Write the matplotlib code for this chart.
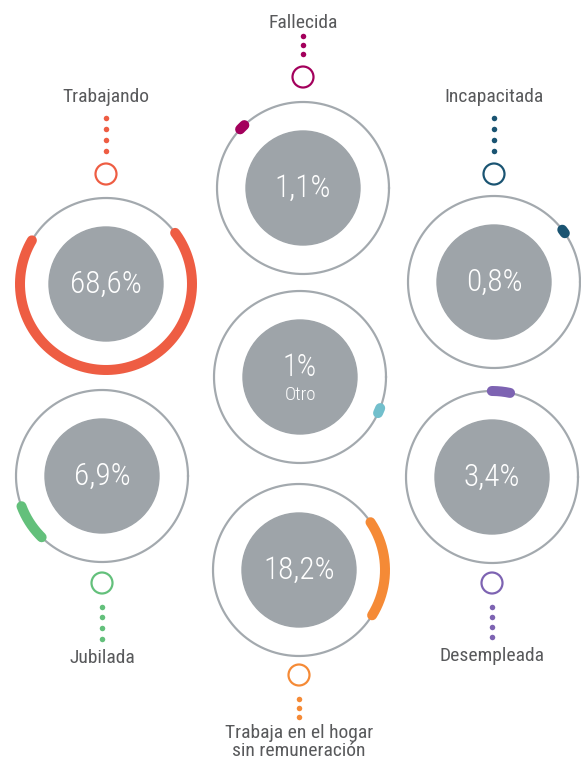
import numpy as np
import matplotlib.pyplot as plt

# category, share (%) and colour of each activity
labels = ["Trabajando", "Fallecida", "Incapacitada", "Jubilada", "Otro",
          "Desempleada", "Trabaja en el hogar\nsin remuneración"]
values = [68.6, 1.1, 0.8, 6.9, 1.0, 3.4, 18.2]
colors = ["#ee5d43", "#a3005c", "#1a5472", "#63c07b", "#72bfcc",
          "#7d63b2", "#f58a36"]

# layout: ring centres (px), where each arc sits (deg), label side
centers = [(106, 284), (303, 188), (494, 282), (102, 476), (300, 377),
           (492, 477), (299, 570)]
arc_mid = [273, 135, 36, 213, -23, 84, 1]
label_side = ["top", "top", "top", "bottom", None, "bottom", "bottom"]
n_dots = [4, 3, 4, 4, 0, 4, 3]
marker_off = [110, 111, 108, 107, 0, 106, 105]
dot_step = [10.7, 9, 10.7, 10.7, 0, 10.3, 9]
label_gap = [21, 13, 21, 19, 0, 19, 16]

RING = 86
INNER = 57
GRAY_RING = "#a3a9ae"
GRAY_FILL = "#9ea4a9"
TEXT = "#58595b"

plt.rcParams["font.family"] = ["Roboto Condensed", "Liberation Sans Narrow",
                               "Roboto", "DejaVu Sans"]

W, H = 581, 761
fig = plt.figure(figsize=(W / 100, H / 100), dpi=100)
ax = fig.add_axes([0, 0, 1, 1])
ax.set_xlim(0, W)
ax.set_ylim(H, 0)
ax.set_aspect("equal")
ax.axis("off")

px = 0.72  # points per pixel at 100 dpi

for i, (lab, val, col, (cx, cy)) in enumerate(zip(labels, values, colors, centers)):
    t = np.linspace(0, 2 * np.pi, 400)
    ax.plot(cx + RING * np.cos(t), cy - RING * np.sin(t),
            color=GRAY_RING, lw=2.2 * px, zorder=1)
    ax.add_patch(plt.Circle((cx, cy), INNER, color=GRAY_FILL, zorder=1))

    span = np.deg2rad(val / 100 * 360)
    mid = np.deg2rad(arc_mid[i])
    a = np.linspace(mid - span / 2, mid + span / 2, 200)
    ax.plot(cx + RING * np.cos(a), cy - RING * np.sin(a), color=col,
            lw=10 * px, solid_capstyle="round", zorder=2)

    txt = f"{val:g}".replace(".", ",") + "%"
    if label_side[i] is None:
        ax.text(cx, cy - 10, txt, ha="center", va="center", color="white",
                fontsize=22, fontweight="light")
        ax.text(cx, cy + 18, lab, ha="center", va="center", color="white",
                fontsize=13.5, fontweight="light")
        continue
    ax.text(cx, cy, txt, ha="center", va="center", color="white",
            fontsize=22.5, fontweight="light")

    s = -1 if label_side[i] == "top" else 1
    my = cy + s * marker_off[i]
    ax.add_patch(plt.Circle((cx, my), 10.5, fill=False, ec=col,
                            lw=2.2 * px, zorder=2))
    last = 23.5 + (n_dots[i] - 1) * dot_step[i]
    for k in range(n_dots[i]):
        ax.plot(cx, my + s * (23.5 + k * dot_step[i]), "o", color=col,
                ms=5.5 * px, mec="none")
    ly = my + s * (last + label_gap[i])
    if s > 0 and "\n" in lab:
        ax.text(cx, ly - 9, lab, ha="center", va="top",
                color=TEXT, fontsize=14, linespacing=1.05)
    else:
        ax.text(cx, ly, lab, ha="center", va="center",
                color=TEXT, fontsize=14)

fig.savefig("out.png", dpi=100, facecolor="white")
